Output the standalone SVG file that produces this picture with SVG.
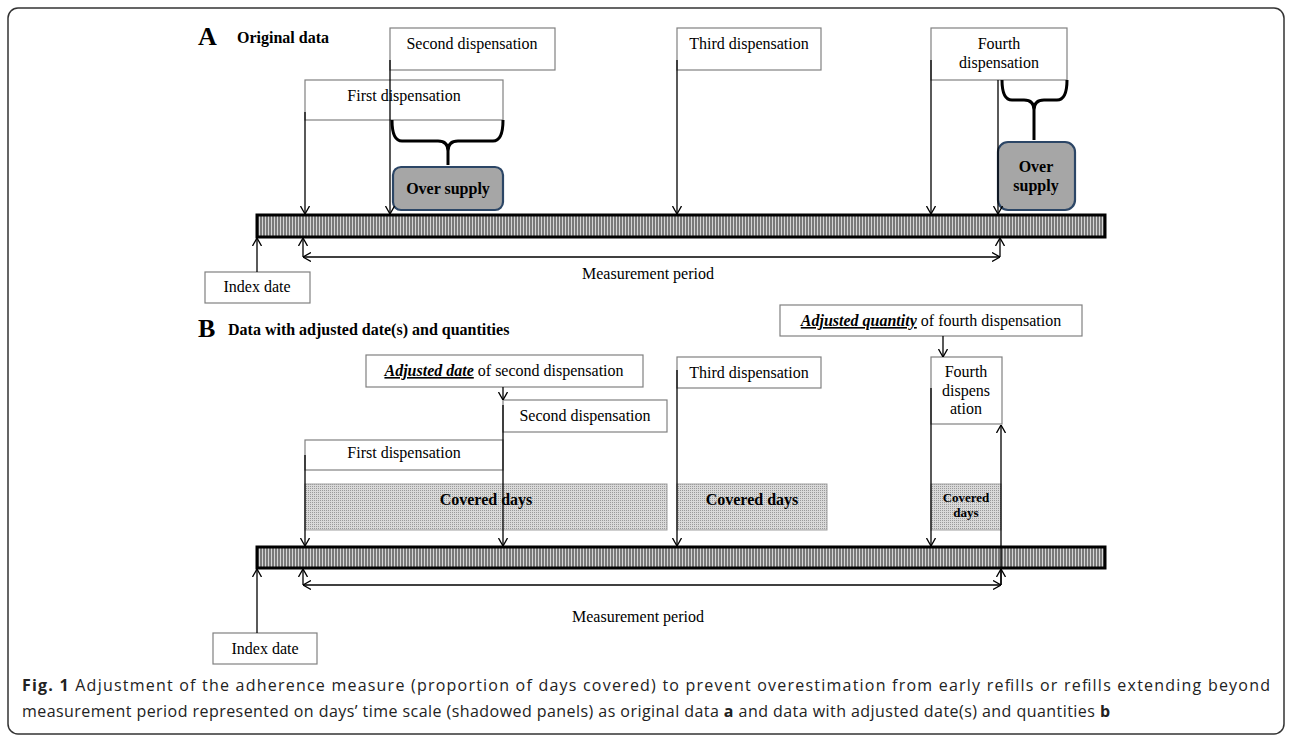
<svg xmlns="http://www.w3.org/2000/svg" width="1292" height="736" viewBox="0 0 1292 736">
<style>
.box{fill:#fff;stroke:#808080;stroke-width:1.2}
.t{font-family:"Liberation Serif","Times New Roman",serif;font-size:16px;fill:#000;text-anchor:middle}
.b{font-weight:bold}
.bi{font-weight:bold;font-style:italic;text-decoration:underline}
.ln{fill:none;stroke:#000;stroke-width:1.3}
.brace{fill:none;stroke:#000;stroke-width:3;stroke-linejoin:round}
.over{fill:#a6a6a6;stroke:#2c4666;stroke-width:2.2}
.bar{fill:url(#hatch);stroke:#000;stroke-width:3}
.cov{fill:url(#dots);stroke:#a0a0a0;stroke-width:1}
.cap{font-family:"Open Sans","Liberation Sans",sans-serif;font-size:16px;fill:#222}
</style>
<defs>
<pattern id="hatch" width="3" height="6" patternUnits="userSpaceOnUse">
<rect width="3" height="6" fill="#7a7a7a"/>
<rect x="1" width="1" height="6" fill="#d6d6d6"/>
</pattern>
<pattern id="dots" width="2" height="2" patternUnits="userSpaceOnUse">
<rect width="2" height="2" fill="#d9d9d9"/>
<rect width="1" height="1" fill="#9a9a9a"/>
</pattern>
<marker id="ar" viewBox="0 0 8 10" markerWidth="8" markerHeight="10" refX="8" refY="5" orient="auto-start-reverse" markerUnits="userSpaceOnUse">
<path d="M0,0.5 L8,5 L0,9.5" fill="none" stroke="#000" stroke-width="1.3"/>
</marker>
</defs>
<rect x="8" y="8" width="1276" height="726" rx="10" fill="#fff" stroke="#333" stroke-width="1.5"/>

<!-- Panel A -->
<g id="titleA">
<text x="198" y="45" class="t b" style="text-anchor:start;font-size:26px">A</text>
<text x="237" y="43" class="t b" style="text-anchor:start">Original data</text>
</g>
<g id="a-second"><rect class="box" x="390" y="28" width="165" height="42"/><text class="t" x="472" y="49">Second dispensation</text></g>
<g id="a-first"><rect class="box" x="305" y="80" width="198" height="40"/><text class="t" x="404" y="101">First dispensation</text></g>
<g id="a-third"><rect class="box" x="677" y="28" width="144" height="42"/><text class="t" x="749" y="49">Third dispensation</text></g>
<g id="a-fourth"><rect class="box" x="931" y="28" width="136" height="52"/><text class="t" x="999" y="49">Fourth</text><text class="t" x="999" y="68">dispensation</text></g>
<g id="a-brace1"><path class="brace" d="M392,120 Q392,141 402,141 L438,141 Q448,141 448,151 L448,165 M448,151 Q448,141 458,141 L493,141 Q503,141 503,120"/></g>
<g id="a-over1"><rect class="over" x="393" y="167" width="110" height="43" rx="8"/><text class="t b" x="448" y="194">Over supply</text></g>
<g id="a-brace2"><path class="brace" d="M1002,80 Q1002,100 1012,100 L1024,100 Q1034,100 1034,110 L1034,140 M1034,110 Q1034,100 1044,100 L1057,100 Q1067,100 1067,80"/></g>
<g id="a-over2"><rect class="over" x="998" y="142" width="77" height="68" rx="10"/><text class="t b" x="1036" y="172">Over</text><text class="t b" x="1036" y="191">supply</text></g>
<g id="a-timeline"><rect class="bar" x="257" y="215" width="848" height="22"/></g>
<g id="a-index"><rect class="box" x="205" y="272" width="105" height="31"/><text class="t" x="257" y="292">Index date</text></g>
<g id="a-measure"><text class="t" x="648" y="279">Measurement period</text></g>

<!-- Panel B -->
<g id="titleB">
<text x="198" y="337" class="t b" style="text-anchor:start;font-size:26px">B</text>
<text x="228" y="335" class="t b" style="text-anchor:start">Data with adjusted date(s) and quantities</text>
</g>
<g id="b-adjdate"><rect class="box" x="366" y="355" width="277" height="32"/><text class="t" x="504" y="376"><tspan class="bi">Adjusted date</tspan> of second dispensation</text></g>
<g id="b-second"><rect class="box" x="503" y="400" width="164" height="32"/><text class="t" x="585" y="421">Second dispensation</text></g>
<g id="b-first"><rect class="box" x="305" y="440" width="198" height="30"/><text class="t" x="404" y="458">First dispensation</text></g>
<g id="b-third"><rect class="box" x="677" y="357" width="144" height="31"/><text class="t" x="749" y="378">Third dispensation</text></g>
<g id="b-adjqty"><rect class="box" x="780" y="305" width="302" height="31"/><text class="t" x="931" y="326"><tspan class="bi">Adjusted quantity</tspan> of fourth dispensation</text></g>
<g id="b-fourth"><rect class="box" x="931" y="357" width="71" height="67"/><text class="t" x="966" y="377">Fourth</text><text class="t" x="966" y="396">dispens</text><text class="t" x="966" y="414">ation</text></g>
<g id="b-cov1"><rect class="cov" x="305" y="484" width="362" height="46"/><text class="t b" x="486" y="505">Covered days</text></g>
<g id="b-cov2"><rect class="cov" x="677" y="484" width="150" height="46"/><text class="t b" x="752" y="505">Covered days</text></g>
<g id="b-cov3"><rect class="cov" x="931" y="484" width="70" height="46"/><text class="t b" x="966" y="502" style="font-size:13px">Covered</text><text class="t b" x="966" y="517" style="font-size:13px">days</text></g>
<g id="b-timeline"><rect class="bar" x="257" y="547" width="848" height="21"/></g>
<g id="b-index"><rect class="box" x="213" y="633" width="104" height="31"/><text class="t" x="265" y="654">Index date</text></g>
<g id="b-measure"><text class="t" x="638" y="622">Measurement period</text></g>

<g id="connectors">
<!-- A -->
<path class="ln" d="M305,112 V214" marker-end="url(#ar)"/>
<path class="ln" d="M390,60 V214" marker-end="url(#ar)"/>
<path class="ln" d="M677,60 V214" marker-end="url(#ar)"/>
<path class="ln" d="M931,60 V214" marker-end="url(#ar)"/>
<path class="ln" d="M998,80 V214" marker-end="url(#ar)"/>
<path class="ln" d="M257,272 V238" marker-end="url(#ar)"/>
<path class="ln" d="M303,257 V238" marker-end="url(#ar)"/>
<path class="ln" d="M1000,257 V238" marker-end="url(#ar)"/>
<path class="ln" d="M303,257 H1000" marker-start="url(#ar)" marker-end="url(#ar)"/>
<!-- B -->
<path class="ln" d="M503,387 V400" marker-end="url(#ar)"/>
<path class="ln" d="M943,336 V357" marker-end="url(#ar)"/>
<path class="ln" d="M305,455 V546" marker-end="url(#ar)"/>
<path class="ln" d="M503,405 V546" marker-end="url(#ar)"/>
<path class="ln" d="M677,370 V546" marker-end="url(#ar)"/>
<path class="ln" d="M931,388 V546" marker-end="url(#ar)"/>
<path class="ln" d="M1001,585 V425" marker-end="url(#ar)"/>
<path class="ln" d="M1001,585 V569" marker-end="url(#ar)"/>
<path class="ln" d="M257,633 V569" marker-end="url(#ar)"/>
<path class="ln" d="M303,585 V569" marker-end="url(#ar)"/>
<path class="ln" d="M303,585 H1001" marker-start="url(#ar)" marker-end="url(#ar)"/>
</g>

<g id="caption">
<text class="cap" x="22" y="691" textLength="1248" lengthAdjust="spacing"><tspan font-weight="bold">Fig. 1</tspan> Adjustment of the adherence measure (proportion of days covered) to prevent overestimation from early refills or refills extending beyond</text>
<text class="cap" x="22" y="717" textLength="1088" lengthAdjust="spacing">measurement period represented on days’ time scale (shadowed panels) as original data <tspan font-weight="bold">a</tspan> and data with adjusted date(s) and quantities <tspan font-weight="bold">b</tspan></text>
</g>
</svg>
